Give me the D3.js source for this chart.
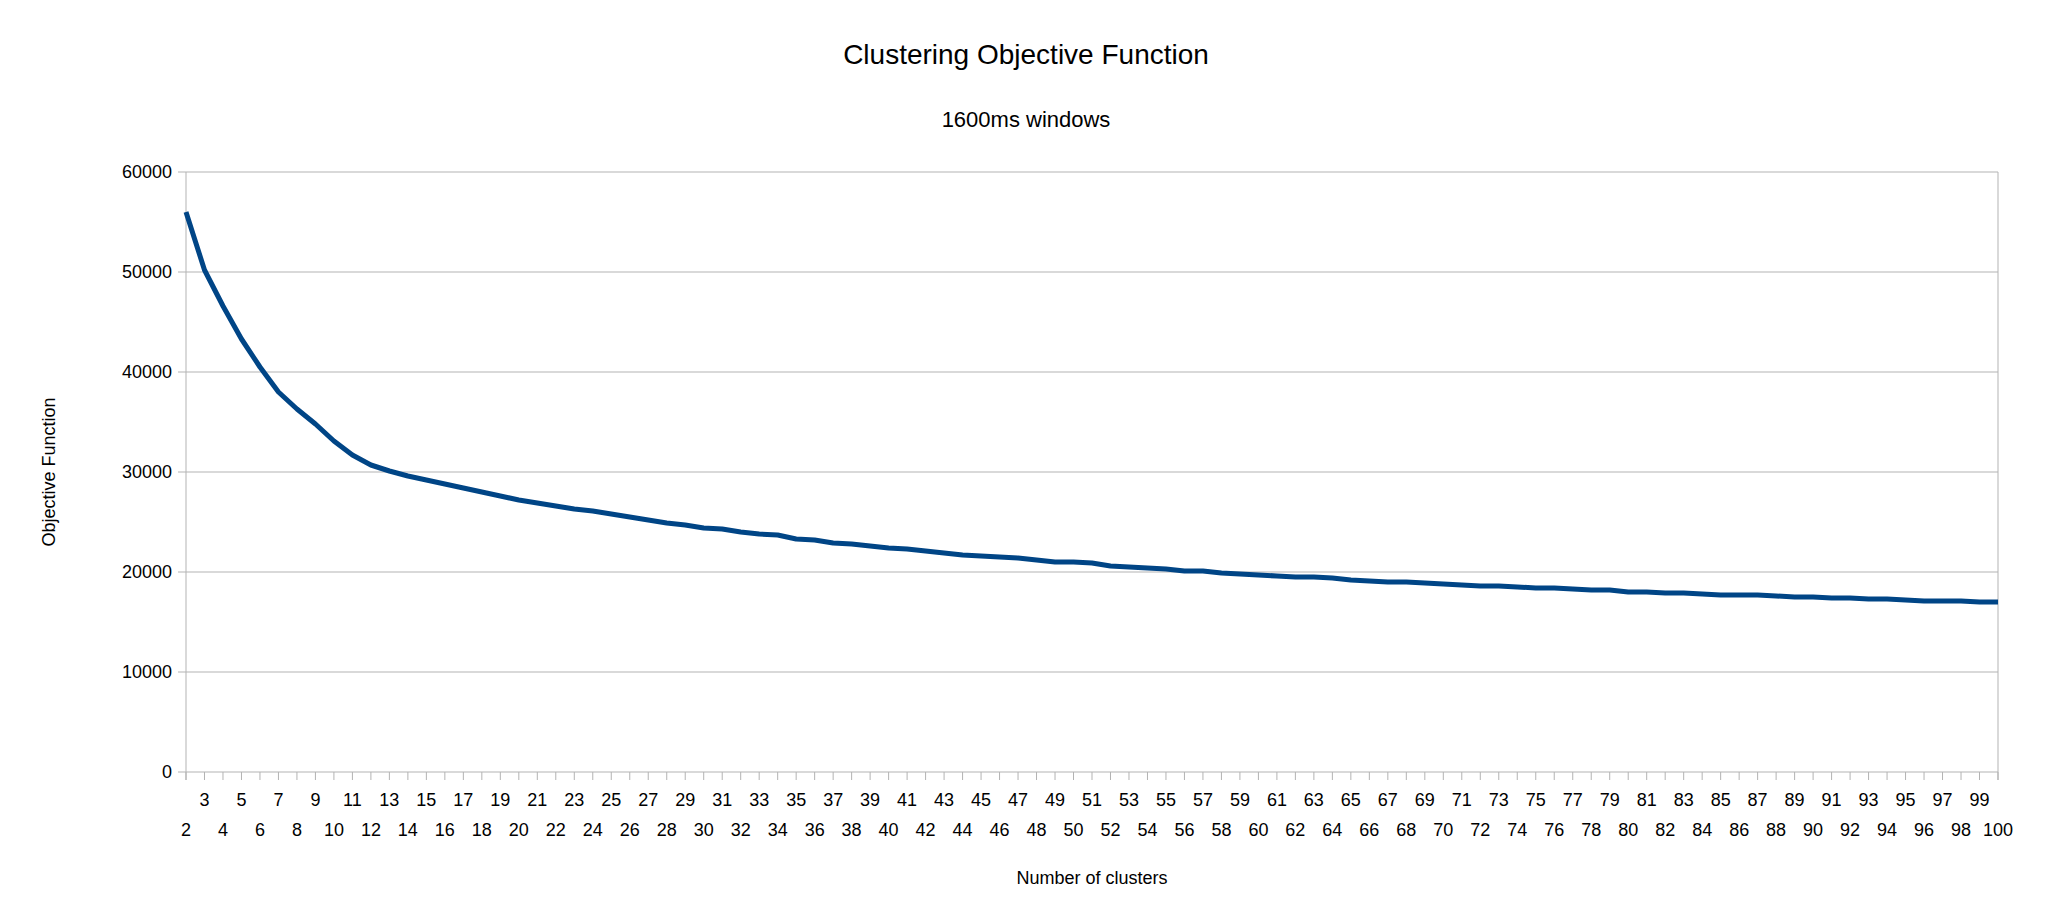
<!DOCTYPE html>
<html>
<head>
<meta charset="utf-8">
<script src="https://cdn.jsdelivr.net/npm/d3@7"></script>
<style>
  body { margin: 0; background: #fff; }
  text { font-family: "Liberation Sans", Arial, sans-serif; fill: #000; }
</style>
</head>
<body>
<svg id="chart"></svg>
<script>
const width = 2048;
const height = 918;
const margin = {left: 186, right: 50, top: 172, bottom: 146};

// number of clusters
const clusters = d3.range(2, 101);
// objective function values
const objective = [
    56000, 50200, 46600, 43300, 40500, 38000, 36300, 34800, 33100, 31700,
    30700, 30100, 29600, 29200, 28800, 28400, 28000, 27600, 27200, 26900,
    26600, 26300, 26100, 25800, 25500, 25200, 24900, 24700, 24400, 24300,
    24000, 23800, 23700, 23300, 23200, 22900, 22800, 22600, 22400, 22300,
    22100, 21900, 21700, 21600, 21500, 21400, 21200, 21000, 21000, 20900,
    20600, 20500, 20400, 20300, 20100, 20100, 19900, 19800, 19700, 19600,
    19500, 19500, 19400, 19200, 19100, 19000, 19000, 18900, 18800, 18700,
    18600, 18600, 18500, 18400, 18400, 18300, 18200, 18200, 18000, 18000,
    17900, 17900, 17800, 17700, 17700, 17700, 17600, 17500, 17500, 17400,
    17400, 17300, 17300, 17200, 17100, 17100, 17100, 17000, 17000
];
const yTicks = [0, 10000, 20000, 30000, 40000, 50000, 60000];

const data = clusters.map((c, i) => ({c: c, v: objective[i]}));

const svg = d3.select('#chart')
    .attr('width', width)
    .attr('height', height);

const x = d3.scalePoint()
    .domain(clusters)
    .range([margin.left, width - margin.right]);

const y = d3.scaleLinear()
    .domain([0, 60000])
    .range([height - margin.bottom, margin.top]);

// gridlines
svg.append('g')
    .selectAll('line')
    .data(yTicks)
    .enter().append('line')
        .attr('x1', margin.left - 8)
        .attr('x2', width - margin.right)
        .attr('y1', d => y(d))
        .attr('y2', d => y(d))
        .style('stroke', '#b3b3b3')
        .style('stroke-width', 1);

// left and right frame lines
[margin.left, width - margin.right].forEach(px => {
    svg.append('line')
        .attr('x1', px).attr('x2', px)
        .attr('y1', margin.top).attr('y2', height - margin.bottom + 8)
        .style('stroke', '#b3b3b3');
});

// y labels
svg.append('g')
    .selectAll('text')
    .data(yTicks)
    .enter().append('text')
        .attr('x', margin.left - 14)
        .attr('y', d => y(d))
        .attr('dy', '0.35em')
        .attr('text-anchor', 'end')
        .style('font-size', '18px')
        .text(d => d);

// x ticks and alternating labels
const xg = svg.append('g');
xg.selectAll('line')
    .data(clusters)
    .enter().append('line')
        .attr('x1', d => x(d)).attr('x2', d => x(d))
        .attr('y1', height - margin.bottom)
        .attr('y2', height - margin.bottom + 8)
        .style('stroke', '#b3b3b3');
xg.selectAll('text')
    .data(clusters)
    .enter().append('text')
        .attr('x', d => x(d))
        .attr('y', d => d % 2 ? 800 : 830)
        .attr('dy', '0.35em')
        .attr('text-anchor', 'middle')
        .style('font-size', '18px')
        .text(d => d);

// the line
svg.append('path')
    .datum(data)
    .attr('d', d3.line().x(d => x(d.c)).y(d => y(d.v)))
    .style('fill', 'none')
    .style('stroke', '#004586')
    .style('stroke-width', 5)
    .style('stroke-linejoin', 'round');

// titles
svg.append('text')
    .attr('x', width / 2 + 2).attr('y', 54)
    .attr('dy', '0.35em')
    .attr('text-anchor', 'middle')
    .style('font-size', '28px')
    .text('Clustering Objective Function');

svg.append('text')
    .attr('x', width / 2 + 2).attr('y', 119)
    .attr('dy', '0.35em')
    .attr('text-anchor', 'middle')
    .style('font-size', '22px')
    .text('1600ms windows');

svg.append('text')
    .attr('x', (margin.left + width - margin.right) / 2).attr('y', 878)
    .attr('dy', '0.35em')
    .attr('text-anchor', 'middle')
    .style('font-size', '18px')
    .text('Number of clusters');

svg.append('text')
    .attr('transform', `translate(49, ${(margin.top + height - margin.bottom) / 2}) rotate(-90)`)
    .attr('dy', '0.35em')
    .attr('text-anchor', 'middle')
    .style('font-size', '18px')
    .text('Objective Function');
</script>
</body>
</html>
